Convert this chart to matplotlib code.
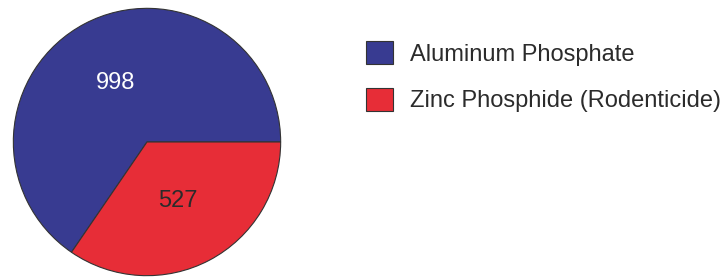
import matplotlib.pyplot as plt

plt.rcParams['font.family'] = ['Liberation Sans', 'DejaVu Sans']

#data
labels = ['Aluminum Phosphate', 'Zinc Phosphide (Rodenticide)']
counts = [998, 527]
colors = ['#383b91', '#e72d37']
label_colors = ['white', '#2b2b2b']

f = plt.figure(figsize=(7.24, 2.77), dpi=100)
ax = f.add_axes([12/724, 0/277, 270/724, 270/277])

wedges, texts, autotexts = ax.pie(
    counts, colors=colors, startangle=0, radius=1,
    autopct=lambda p: '%d' % round(p*sum(counts)/100), pctdistance=0.5,
    wedgeprops=dict(edgecolor='#333333', linewidth=0.8),
    textprops=dict(fontsize=17))
for t, c in zip(autotexts, label_colors):
    t.set_color(c)
ax.set_xlim(-1.01, 1.01)
ax.set_ylim(-1.01, 1.01)
ax.set_aspect('equal')

leg = f.legend(wedges, labels, loc='upper left',
               bbox_to_anchor=(366/724, 1-41/277), frameon=False,
               fontsize=17, handlelength=1.15, handleheight=1.12,
               handletextpad=0.7, labelspacing=0.95, borderpad=0,
               borderaxespad=0)
for t in leg.get_texts():
    t.set_color('#2b2b2b')

f.savefig('out.png', dpi=100)
